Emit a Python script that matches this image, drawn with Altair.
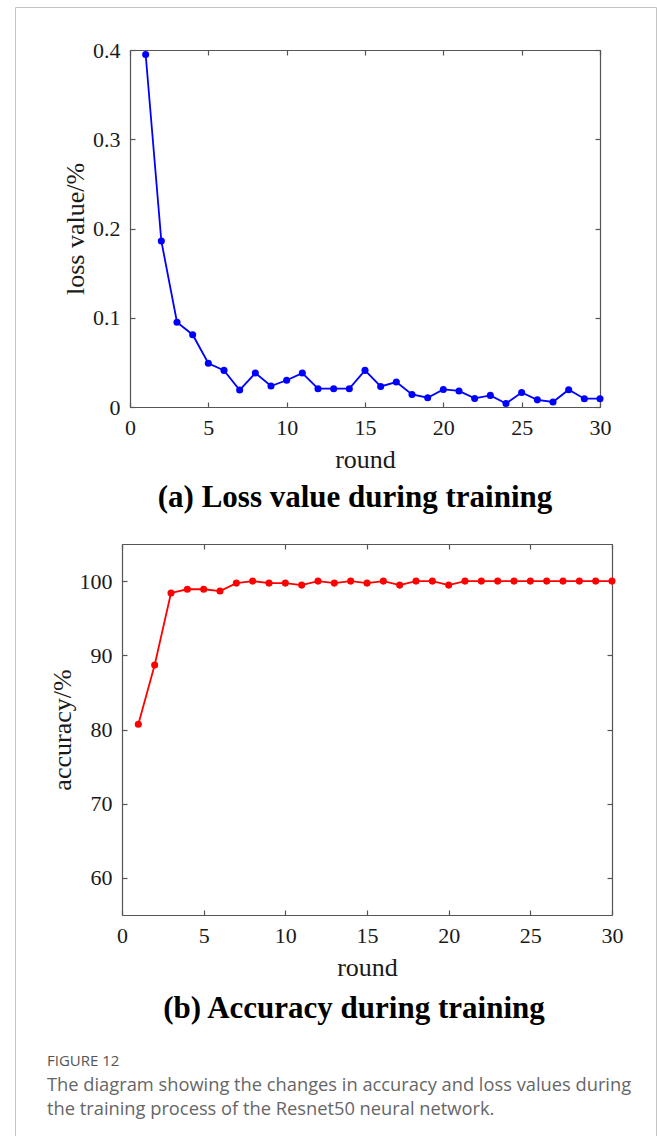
import altair as alt
import pandas as pd

# ---------------- data ----------------
rounds = list(range(1, 31))
loss = [0.395, 0.186, 0.095, 0.081, 0.049, 0.041, 0.019, 0.038, 0.0235, 0.030,
        0.038, 0.0205, 0.0205, 0.0205, 0.041, 0.023, 0.028, 0.014, 0.0104, 0.0197,
        0.018, 0.0096, 0.013, 0.004, 0.0163, 0.008, 0.0056, 0.0194, 0.0093, 0.0093]
accuracy = [80.7, 88.7, 98.4, 98.9, 98.9, 98.66, 99.73, 100, 99.73, 99.73,
            99.46, 100, 99.73, 100, 99.73, 100, 99.46, 100, 100, 99.46,
            100, 100, 100, 100, 100, 100, 100, 100, 100, 100]
x_ticks = [0, 5, 10, 15, 20, 25, 30]
loss_ticks = [0, 0.1, 0.2, 0.3, 0.4]
acc_ticks = [60, 70, 80, 90, 100]
x_title = "round"
loss_title = "loss value/%"
acc_title = "accuracy/%"
panel_titles = ["(a) Loss value during training", "(b) Accuracy during training"]
fig_label = "FIGURE 12"
caption_lines = ["The diagram showing the changes in accuracy and loss values during",
                 "the training process of the Resnet50 neural network."]

loss_df = pd.DataFrame({"round": rounds, "value": loss})
acc_df = pd.DataFrame({"round": rounds, "value": accuracy})

# ---------------- layout / style ----------------
W, H = 657, 1136
SERIF = "Liberation Serif"
AX = "#555555"
TXT = "#1a1a1a"
INWARD = {"expr": "-5"}


def main_axes(xr, yr, ydom, yvals, ytitle, yfmt):
    xa = alt.Axis(orient="bottom", offset=yr[0] - H, values=x_ticks, tickSize=INWARD,
                  tickColor=AX, domainColor=AX, domainWidth=1.2, tickWidth=1.2,
                  labelFont=SERIF, labelFontSize=22, labelColor=TXT, labelPadding=15,
                  labelFlush=False, labelOverlap=False, grid=False,
                  title=x_title, titleFont=SERIF, titleFontSize=26, titleFontWeight="normal",
                  titleColor=TXT, titlePadding=8)
    ya = alt.Axis(orient="left", offset=-xr[0], values=yvals, format=yfmt, tickSize=INWARD,
                  tickColor=AX, domainColor=AX, domainWidth=1.2, tickWidth=1.2,
                  labelFont=SERIF, labelFontSize=22, labelColor=TXT, labelPadding=15,
                  labelFlush=False, labelOverlap=False, grid=False,
                  title=ytitle, titleFont=SERIF, titleFontSize=26, titleFontWeight="normal",
                  titleColor=TXT, titlePadding=4)
    return xa, ya


def panel(df, color, xr, yr, ydom, yvals, ytitle, yfmt):
    xs = alt.Scale(domain=[0, 30], range=list(xr), nice=False, zero=False)
    ys = alt.Scale(domain=ydom, range=list(yr), nice=False, zero=False)
    xa, ya = main_axes(xr, yr, ydom, yvals, ytitle, yfmt)
    main = alt.Chart(df).mark_line(
        color=color, strokeWidth=1.8,
        point=alt.OverlayMarkDef(color=color, filled=True, size=50, opacity=1),
    ).encode(
        x=alt.X("round:Q", scale=xs, axis=xa),
        y=alt.Y("value:Q", scale=ys, axis=ya),
    )
    bx = alt.Axis(orient="top", offset=-yr[1], values=x_ticks, tickSize=INWARD, labels=False,
                  tickColor=AX, domainColor=AX, domainWidth=1.2, tickWidth=1.2, grid=False)
    by = alt.Axis(orient="right", offset=xr[1] - W, values=yvals, tickSize=INWARD, labels=False,
                  tickColor=AX, domainColor=AX, domainWidth=1.2, tickWidth=1.2, grid=False)
    box = alt.Chart(df).mark_point(opacity=0).encode(
        x=alt.X("round:Q", scale=xs, axis=bx, title=None),
        y=alt.Y("value:Q", scale=ys, axis=by, title=None),
    )
    return main, box


loss_main, loss_box = panel(loss_df, "#0000ff", (130, 600), (407, 50), [0, 0.4],
                            loss_ticks, loss_title, "~g")
acc_main, acc_box = panel(acc_df, "#ff0000", (122, 612), (915, 544), [55, 105],
                          acc_ticks, acc_title, "d")


def text_layer(txt, x, y, **kw):
    return alt.Chart(pd.DataFrame({"t": [txt]})).mark_text(**kw).encode(
        text="t:N", x=alt.value(x), y=alt.value(y))


frame = alt.Chart(pd.DataFrame({"k": [0]})).mark_rect(
    fill=None, stroke="#c4c4c4", strokeWidth=1
).encode(x=alt.value(15.5), x2=alt.value(656.5), y=alt.value(7.5), y2=alt.value(1200))

title_a = text_layer(panel_titles[0], 355, 507, font=SERIF, fontSize=31, fontWeight="bold",
                     align="center", baseline="alphabetic", color="#000000")
title_b = text_layer(panel_titles[1], 354, 1018, font=SERIF, fontSize=31, fontWeight="bold",
                     align="center", baseline="alphabetic", color="#000000")
cap0 = text_layer(fig_label, 47, 1066, font="Open Sans", fontSize=15, fontWeight="normal",
                  align="left", baseline="alphabetic", color="#555555")
cap1 = text_layer(caption_lines[0], 47, 1091, font="Open Sans", fontSize=18.3,
                  align="left", baseline="alphabetic", color="#666666")
cap2 = text_layer(caption_lines[1], 47, 1115, font="Open Sans", fontSize=18.3,
                  align="left", baseline="alphabetic", color="#666666")

chart = alt.layer(
    frame, loss_main, loss_box, acc_main, acc_box, title_a, title_b, cap0, cap1, cap2
).resolve_scale(
    x="independent", y="independent"
).resolve_axis(
    x="independent", y="independent"
).properties(
    width=W, height=H, padding=0,
    autosize=alt.AutoSizeParams(type="none"),
    background="#ffffff",
).configure_view(stroke=None)

chart.save("out.html", embed_options={"renderer": "svg", "actions": False})
